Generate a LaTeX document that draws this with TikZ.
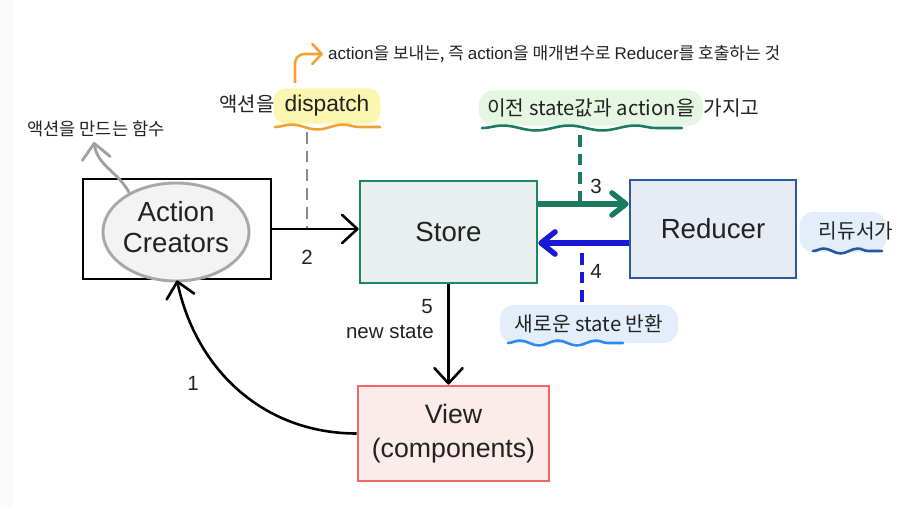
\documentclass[tikz,border=0pt]{standalone}
\usepackage{fontspec}
\setmainfont{Liberation Sans}
\newfontfamily\kr{Noto Sans CJK KR}
\usetikzlibrary{arrows.meta,decorations.pathmorphing,calc,shapes.geometric}
\definecolor{txt}{HTML}{222222}
\definecolor{storeD}{HTML}{1F8468}
\definecolor{storeF}{HTML}{E7F0EE}
\definecolor{redD}{HTML}{2A5A9E}
\definecolor{redF}{HTML}{E6EBF4}
\definecolor{viewD}{HTML}{F06666}
\definecolor{viewF}{HTML}{FCEBEB}
\definecolor{ellD}{HTML}{A8A8A8}
\definecolor{ellF}{HTML}{F3F3F3}
\definecolor{arrG}{HTML}{1B7B61}
\definecolor{arrB}{HTML}{1818D8}
\definecolor{orng}{HTML}{F4A033}
\definecolor{yel}{HTML}{FBF6B0}
\definecolor{grnF}{HTML}{E5F6E3}
\definecolor{bluF}{HTML}{E4EEFA}
\definecolor{wvB}{HTML}{2A8CF2}
\definecolor{wvD}{HTML}{2358A0}
\definecolor{grayA}{HTML}{A0A0A0}
\definecolor{dashG}{HTML}{888888}
\newcommand{\K}[1]{{\kr #1}}
\begin{document}
\begin{tikzpicture}[x=0.03cm,y=-0.03cm,
  box/.style={draw, line width=2.3pt, inner sep=0pt, text=txt, align=center, font=\fontsize{23.6}{26.4}\selectfont},
  lbl/.style={inner sep=0pt, text=txt, font=\fontsize{17.5}{21}\selectfont},
  tipb/.style={-{Straight Barb[length=13pt,width=24pt,round]}},
  tips/.style={-{Straight Barb[length=8pt,width=17pt,round]}},
  tipg/.style={-{Straight Barb[length=12pt,width=19pt,round]}},
  wave/.style={decorate, decoration={snake, segment length=2cm, amplitude=2.1pt}, line width=2.2pt, line cap=round},
  ann/.style={inner sep=0pt, text=txt, font=\kr\fontsize{17.3}{20}\selectfont},
  dsh/.style={line width=2.4pt, dash pattern=on 10pt off 6pt}
]
\useasboundingbox (0,0) rectangle (920,507);
\fill[white] (0,0) rectangle (920,507);
\fill[black!2] (0,0) rectangle (13,507);

% main boxes
\node[box, draw=black, fill=white, minimum width=5.64cm, minimum height=3cm] (acbox) at (177,229) {};
\node[ellipse, draw=ellD, fill=ellF, line width=2.5pt, minimum width=4.38cm, minimum height=2.94cm, inner sep=0pt] (ac) at (176,232) {};
\node[box, draw=none, fill=none] (actxt) at (176,227) {Action\\Creators};
\node[box, draw=storeD, fill=storeF, minimum width=5.31cm, minimum height=3.06cm] (store) at (448.5,232) {Store};
\node[box, draw=redD, fill=redF, minimum width=4.98cm, minimum height=2.94cm] (reducer) at (713,229) {Reducer};
\node[box, draw=viewD, fill=viewF, minimum width=5.73cm, minimum height=2.85cm, font=\fontsize{22.8}{29}\selectfont] (view) at (453.5,433.5) {View\\(components)};

% annotations
\node[ann, font=\kr\fontsize{15}{18}\selectfont] (mk) at (96,129) {액션을 만드는 함수};
\node[inner xsep=0.33cm, inner ysep=0pt, minimum height=1.05cm, fill=yel, rounded corners=10pt, text=txt, font=\fontsize{19.4}{23}\selectfont] (dtxt) at (327,106) {dispatch};
\node[anchor=base east, inner sep=0pt, text=txt, font=\kr\fontsize{17}{19}\selectfont] (dko) at ([xshift=1pt]dtxt.base west) {액션을 };
\node[anchor=west, inner sep=0pt, text=txt, font=\fontsize{14.5}{17}\selectfont] (toptxt) at (328,54) {action\K{을 보내는, 즉 }action\K{을 매개변수로 }Reducer\K{를 호출하는 것}};
\node[ann, fill=grnF, rounded corners=12pt, inner xsep=0.25cm, minimum height=1.05cm] (gtxt) at (591,108) {이전 state값과 action을};
\node[ann, anchor=base west] (gko) at ([xshift=0pt]gtxt.base east) {가지고};
\node[ann, fill=bluF, rounded corners=12pt, inner xsep=0.45cm, minimum height=1.14cm] (btxt) at (589,324) {새로운 state 반환};
\node[fill=bluF, rounded corners=12pt, minimum width=2.61cm, minimum height=1.2cm, inner sep=0pt] (rbub) at (843,232) {};
\node[ann] (rtxt) at (856,231) {리듀서가};

% wavy underlines
\draw[wave, orng, decoration={segment length=1.56cm}] (275,127) -- (380,127);
\draw[wave, arrG, decoration={segment length=1.99cm}] (482,128) -- (682,128);
\draw[wave, wvB, decoration={segment length=1.14cm}] (508,343) -- (623,343);
\draw[wave, wvD, decoration={segment length=1.02cm}] (813,251) -- (882,251);

% connectors
\coordinate (g2) at (307,132);
\draw[dsh, dashG] (g2) -- (g2 |- acbox.east);
\draw[line width=2.2pt, tipb] (acbox.east) -- (acbox.east -| store.west);

\coordinate (a3s) at ($(store.east)+(0,-28)$);
\coordinate (a4s) at ($(reducer.west)+(0,14)$);
\coordinate (gd) at (580,135);
\coordinate (bd) at (582,302);
\draw[dsh, arrG, line width=3pt] (gd) -- (gd |- a3s);
\draw[dsh, arrB, line width=3pt] (bd) -- (bd |- a4s);
\draw[arrG, line width=4.6pt, tipg] (a3s) -- (a3s -| reducer.west);
\draw[arrB, line width=4.6pt, tipg] (a4s) -- (a4s -| store.east);

\draw[line width=2.2pt, tipb] (store.south) -- (store.south |- view.north);
\draw[line width=2.2pt, tipb] (view.west) to[out=180,in=-78] (acbox.south);

\coordinate (gt) at (94,142);
\draw[grayA, line width=2.4pt, tipb] (ac.140) to[out=118,in=-82] (gt);

\coordinate (os) at (295,83);
\coordinate (ot) at (323,54);
\draw[orng, line width=2.2pt, rounded corners=8pt, tips] (os) -- (os |- ot) -- (ot);

% labels
\node[lbl] (n2) at (307,257) {2};
\node[lbl] (n3) at (596,186) {3};
\node[lbl] (n4) at (596,271) {4};
\node[lbl] (n5) at (427,307) {5};
\node[lbl, anchor=east] (ns) at (434,332) {new state};
\node[lbl] (n1) at (193,383) {1};
\end{tikzpicture}
\end{document}
